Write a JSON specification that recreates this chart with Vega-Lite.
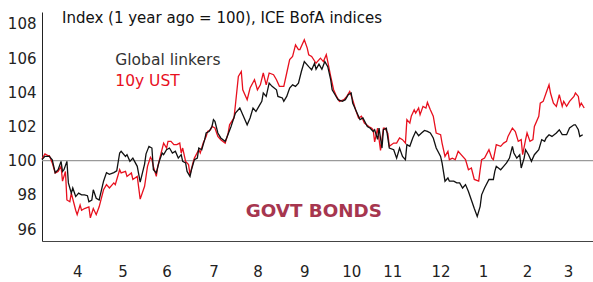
{
  "$schema": "https://vega.github.io/schema/vega-lite/v6.json",
  "width": 551,
  "height": 229,
  "autosize": {"type": "none"},
  "padding": {"left": 42, "top": 12, "right": 0, "bottom": 41},
  "background": "white",
  "config": {
    "view": {"stroke": null},
    "font": "DejaVu Sans",
    "axis": {"labelOverlap": false, "labelFlush": false, "grid": false, "ticks": false, "title": null, "labelSeparation": 0}
  },
  "title": {"text": "Index (1 year ago = 100), ICE BofA indices", "anchor": "start", "frame": "group", "offset": -14, "dx": 20, "font": "DejaVu Sans", "fontSize": 15, "fontWeight": "normal", "color": "#111"},
  "datasets": {
    "ust": [
      {"d":"2023-03-22","v":100.1},{"d":"2023-03-24","v":100.4},{"d":"2023-03-26","v":100.3},{"d":"2023-03-27","v":100.3},{"d":"2023-03-29","v":99.87},{"d":"2023-03-31","v":99.28},
      {"d":"2023-04-02","v":99.37},{"d":"2023-04-04","v":99.67},{"d":"2023-04-05","v":98.8},{"d":"2023-04-07","v":99.37},{"d":"2023-04-08","v":97.7},{"d":"2023-04-10","v":97.6},{"d":"2023-04-11","v":98.1},{"d":"2023-04-14","v":97.1},{"d":"2023-04-15","v":96.84},{"d":"2023-04-17","v":97.4},{"d":"2023-04-18","v":97.1},{"d":"2023-04-20","v":97.2},{"d":"2023-04-23","v":97.3},{"d":"2023-04-24","v":96.65},{"d":"2023-04-26","v":97.2},{"d":"2023-04-28","v":96.84},{"d":"2023-04-30","v":97.3},
      {"d":"2023-05-03","v":98.3},{"d":"2023-05-05","v":98.6},{"d":"2023-05-07","v":98.4},{"d":"2023-05-10","v":98.7},{"d":"2023-05-11","v":98.6},{"d":"2023-05-14","v":99.47},{"d":"2023-05-15","v":99.28},{"d":"2023-05-18","v":99.37},{"d":"2023-05-19","v":99.08},{"d":"2023-05-22","v":99.28},{"d":"2023-05-23","v":98.9},{"d":"2023-05-26","v":99.08},{"d":"2023-05-28","v":97.75},{"d":"2023-05-31","v":98.5},
      {"d":"2023-06-02","v":99.67},{"d":"2023-06-04","v":100.2},{"d":"2023-06-05","v":100.06},{"d":"2023-06-06","v":99.67},{"d":"2023-06-08","v":99.08},{"d":"2023-06-09","v":99.67},{"d":"2023-06-11","v":100.35},{"d":"2023-06-13","v":101.03},{"d":"2023-06-15","v":100.74},{"d":"2023-06-16","v":101.13},{"d":"2023-06-18","v":101.13},{"d":"2023-06-20","v":100.94},{"d":"2023-06-22","v":100.94},{"d":"2023-06-24","v":101.03},{"d":"2023-06-25","v":100.45},{"d":"2023-06-26","v":100.74},{"d":"2023-06-28","v":99.96},{"d":"2023-06-30","v":99.77},
      {"d":"2023-07-01","v":99.18},{"d":"2023-07-03","v":99.87},{"d":"2023-07-04","v":100.15},{"d":"2023-07-07","v":100.64},{"d":"2023-07-08","v":100.45},{"d":"2023-07-10","v":101.03},{"d":"2023-07-12","v":101.42},{"d":"2023-07-13","v":101.71},{"d":"2023-07-15","v":101.81},{"d":"2023-07-16","v":102.0},{"d":"2023-07-18","v":101.91},{"d":"2023-07-20","v":101.42},{"d":"2023-07-22","v":101.23},{"d":"2023-07-25","v":101.03},{"d":"2023-07-27","v":101.6},{"d":"2023-07-28","v":102.1},{"d":"2023-07-31","v":102.5},
      {"d":"2023-08-01","v":103.27},{"d":"2023-08-03","v":104.93},{"d":"2023-08-05","v":105.22},{"d":"2023-08-06","v":104.15},{"d":"2023-08-09","v":103.57},{"d":"2023-08-11","v":104.25},{"d":"2023-08-14","v":104.74},{"d":"2023-08-16","v":104.15},{"d":"2023-08-18","v":104.44},{"d":"2023-08-20","v":105.13},{"d":"2023-08-22","v":104.44},{"d":"2023-08-24","v":105.13},{"d":"2023-08-27","v":105.03},{"d":"2023-08-29","v":104.74},{"d":"2023-08-31","v":104.35},
      {"d":"2023-09-03","v":104.35},{"d":"2023-09-05","v":105.13},{"d":"2023-09-07","v":105.91},{"d":"2023-09-09","v":106.1},{"d":"2023-09-11","v":106.78},{"d":"2023-09-13","v":106.5},{"d":"2023-09-14","v":106.5},{"d":"2023-09-17","v":107.08},{"d":"2023-09-19","v":106.59},{"d":"2023-09-20","v":106.2},{"d":"2023-09-22","v":106.1},{"d":"2023-09-25","v":105.7},{"d":"2023-09-28","v":106.0},{"d":"2023-09-30","v":105.8},
      {"d":"2023-10-02","v":106.2},{"d":"2023-10-03","v":105.8},{"d":"2023-10-05","v":104.93},{"d":"2023-10-07","v":104.15},{"d":"2023-10-09","v":103.76},{"d":"2023-10-11","v":103.47},{"d":"2023-10-14","v":103.57},{"d":"2023-10-16","v":103.76},{"d":"2023-10-18","v":104.05},{"d":"2023-10-20","v":103.57},{"d":"2023-10-22","v":102.98},{"d":"2023-10-24","v":102.5},{"d":"2023-10-26","v":102.6},{"d":"2023-10-28","v":102.2},{"d":"2023-10-31","v":102.0},
      {"d":"2023-11-02","v":101.9},{"d":"2023-11-03","v":101.8},{"d":"2023-11-04","v":101.1},{"d":"2023-11-06","v":101.9},{"d":"2023-11-08","v":100.6},{"d":"2023-11-10","v":101.9},{"d":"2023-11-11","v":101.9},{"d":"2023-11-13","v":101.6},{"d":"2023-11-14","v":100.84},{"d":"2023-11-17","v":101.03},{"d":"2023-11-19","v":101.03},{"d":"2023-11-21","v":101.33},{"d":"2023-11-23","v":101.23},{"d":"2023-11-25","v":101.03},{"d":"2023-11-26","v":102.4},{"d":"2023-11-28","v":102.2},{"d":"2023-11-29","v":102.6},
      {"d":"2023-12-01","v":102.98},{"d":"2023-12-02","v":102.79},{"d":"2023-12-04","v":103.08},{"d":"2023-12-05","v":102.69},{"d":"2023-12-07","v":103.18},{"d":"2023-12-09","v":103.08},{"d":"2023-12-10","v":103.41},{"d":"2023-12-12","v":102.98},{"d":"2023-12-14","v":102.6},{"d":"2023-12-16","v":101.62},{"d":"2023-12-19","v":101.52},{"d":"2023-12-20","v":101.03},{"d":"2023-12-22","v":100.25},{"d":"2023-12-24","v":100.55},{"d":"2023-12-25","v":100.06},{"d":"2023-12-27","v":100.15},{"d":"2023-12-29","v":100.06},{"d":"2023-12-31","v":100.55},
      {"d":"2024-01-02","v":100.35},{"d":"2024-01-05","v":100.06},{"d":"2024-01-07","v":99.47},{"d":"2024-01-09","v":99.57},{"d":"2024-01-11","v":98.9},{"d":"2024-01-14","v":98.8},{"d":"2024-01-15","v":99.47},{"d":"2024-01-16","v":100.06},{"d":"2024-01-18","v":100.15},{"d":"2024-01-21","v":100.64},{"d":"2024-01-23","v":100.15},{"d":"2024-01-24","v":100.06},{"d":"2024-01-26","v":100.94},{"d":"2024-01-29","v":100.84},{"d":"2024-01-31","v":101.03},
      {"d":"2024-02-02","v":101.13},{"d":"2024-02-03","v":101.42},{"d":"2024-02-06","v":101.91},{"d":"2024-02-08","v":101.71},{"d":"2024-02-10","v":101.13},{"d":"2024-02-12","v":101.23},{"d":"2024-02-13","v":100.35},{"d":"2024-02-15","v":101.23},{"d":"2024-02-16","v":101.62},{"d":"2024-02-18","v":101.13},{"d":"2024-02-20","v":101.23},{"d":"2024-02-21","v":102.0},{"d":"2024-02-24","v":102.6},{"d":"2024-02-25","v":103.37},{"d":"2024-02-27","v":103.47},{"d":"2024-02-29","v":103.96},
      {"d":"2024-03-02","v":104.44},{"d":"2024-03-03","v":103.96},{"d":"2024-03-05","v":103.37},{"d":"2024-03-07","v":103.18},{"d":"2024-03-09","v":103.86},{"d":"2024-03-11","v":103.18},{"d":"2024-03-12","v":103.47},{"d":"2024-03-14","v":103.18},{"d":"2024-03-16","v":103.47},{"d":"2024-03-19","v":103.76},{"d":"2024-03-20","v":103.96},{"d":"2024-03-22","v":103.76},{"d":"2024-03-23","v":103.18},{"d":"2024-03-24","v":103.37},{"d":"2024-03-26","v":103.08}
    ],
    "linkers": [
      {"d":"2023-03-22","v":100.06},{"d":"2023-03-24","v":100.25},{"d":"2023-03-26","v":100.25},{"d":"2023-03-27","v":100.25},{"d":"2023-03-29","v":100.05},{"d":"2023-03-31","v":99.3},
      {"d":"2023-04-02","v":99.47},{"d":"2023-04-04","v":99.96},{"d":"2023-04-05","v":99.37},{"d":"2023-04-06","v":99.47},{"d":"2023-04-08","v":99.96},{"d":"2023-04-09","v":98.7},{"d":"2023-04-11","v":98.1},{"d":"2023-04-12","v":98.4},{"d":"2023-04-14","v":97.9},{"d":"2023-04-16","v":98.1},{"d":"2023-04-18","v":98.0},{"d":"2023-04-20","v":98.0},{"d":"2023-04-22","v":97.95},{"d":"2023-04-23","v":97.6},{"d":"2023-04-25","v":97.7},{"d":"2023-04-26","v":98.3},{"d":"2023-04-28","v":97.8},{"d":"2023-04-30","v":97.7},
      {"d":"2023-05-03","v":98.8},{"d":"2023-05-05","v":99.3},{"d":"2023-05-07","v":99.2},{"d":"2023-05-10","v":99.3},{"d":"2023-05-12","v":99.4},{"d":"2023-05-14","v":100.45},{"d":"2023-05-15","v":100.55},{"d":"2023-05-18","v":100.25},{"d":"2023-05-19","v":100.35},{"d":"2023-05-21","v":99.96},{"d":"2023-05-23","v":100.15},{"d":"2023-05-26","v":99.67},{"d":"2023-05-28","v":98.75},{"d":"2023-05-31","v":99.8},
      {"d":"2023-06-01","v":100.4},{"d":"2023-06-03","v":100.84},{"d":"2023-06-05","v":100.74},{"d":"2023-06-06","v":99.47},{"d":"2023-06-08","v":99.28},{"d":"2023-06-10","v":99.96},{"d":"2023-06-12","v":100.45},{"d":"2023-06-13","v":100.35},{"d":"2023-06-15","v":100.64},{"d":"2023-06-17","v":100.74},{"d":"2023-06-19","v":100.45},{"d":"2023-06-21","v":100.55},{"d":"2023-06-23","v":100.15},{"d":"2023-06-25","v":100.35},{"d":"2023-06-26","v":99.96},{"d":"2023-06-28","v":99.87},{"d":"2023-06-29","v":99.37},
      {"d":"2023-07-01","v":99.08},{"d":"2023-07-02","v":99.47},{"d":"2023-07-04","v":100.06},{"d":"2023-07-06","v":100.15},{"d":"2023-07-07","v":100.74},{"d":"2023-07-09","v":100.64},{"d":"2023-07-11","v":101.23},{"d":"2023-07-12","v":101.62},{"d":"2023-07-14","v":101.71},{"d":"2023-07-16","v":102.0},{"d":"2023-07-17","v":102.4},{"d":"2023-07-18","v":102.3},{"d":"2023-07-20","v":101.62},{"d":"2023-07-22","v":101.33},{"d":"2023-07-24","v":101.2},{"d":"2023-07-25","v":101.13},{"d":"2023-07-26","v":101.33},{"d":"2023-07-29","v":102.0},
      {"d":"2023-08-01","v":102.79},{"d":"2023-08-04","v":103.08},{"d":"2023-08-06","v":102.69},{"d":"2023-08-09","v":102.1},{"d":"2023-08-11","v":102.5},{"d":"2023-08-13","v":103.08},{"d":"2023-08-15","v":102.88},{"d":"2023-08-17","v":103.18},{"d":"2023-08-19","v":103.47},{"d":"2023-08-20","v":103.96},{"d":"2023-08-22","v":103.76},{"d":"2023-08-24","v":104.54},{"d":"2023-08-26","v":104.35},{"d":"2023-08-29","v":104.15},{"d":"2023-08-30","v":103.76},
      {"d":"2023-09-02","v":103.67},{"d":"2023-09-03","v":103.47},{"d":"2023-09-05","v":103.76},{"d":"2023-09-07","v":104.25},{"d":"2023-09-09","v":104.44},{"d":"2023-09-11","v":104.35},{"d":"2023-09-13","v":104.54},{"d":"2023-09-15","v":105.22},{"d":"2023-09-17","v":105.8},{"d":"2023-09-20","v":105.5},{"d":"2023-09-22","v":105.32},{"d":"2023-09-24","v":105.7},{"d":"2023-09-25","v":105.35},{"d":"2023-09-27","v":105.65},{"d":"2023-09-29","v":105.35},
      {"d":"2023-10-01","v":105.8},{"d":"2023-10-03","v":105.5},{"d":"2023-10-05","v":104.74},{"d":"2023-10-06","v":104.15},{"d":"2023-10-08","v":103.86},{"d":"2023-10-10","v":103.57},{"d":"2023-10-13","v":103.47},{"d":"2023-10-15","v":103.57},{"d":"2023-10-17","v":103.86},{"d":"2023-10-19","v":103.96},{"d":"2023-10-20","v":103.37},{"d":"2023-10-23","v":102.79},{"d":"2023-10-25","v":102.4},{"d":"2023-10-27","v":102.5},{"d":"2023-10-30","v":102.0},
      {"d":"2023-11-01","v":101.9},{"d":"2023-11-03","v":101.71},{"d":"2023-11-04","v":101.81},{"d":"2023-11-06","v":101.25},{"d":"2023-11-07","v":101.9},{"d":"2023-11-09","v":100.74},{"d":"2023-11-10","v":101.81},{"d":"2023-11-12","v":101.9},{"d":"2023-11-14","v":100.74},{"d":"2023-11-17","v":100.64},{"d":"2023-11-19","v":100.15},{"d":"2023-11-21","v":100.74},{"d":"2023-11-23","v":100.25},{"d":"2023-11-25","v":100.06},{"d":"2023-11-26","v":100.94},{"d":"2023-11-28","v":100.84},{"d":"2023-11-30","v":101.33},
      {"d":"2023-12-02","v":101.71},{"d":"2023-12-04","v":101.46},{"d":"2023-12-06","v":101.62},{"d":"2023-12-08","v":101.77},{"d":"2023-12-10","v":101.71},{"d":"2023-12-12","v":101.62},{"d":"2023-12-14","v":101.33},{"d":"2023-12-16","v":100.74},{"d":"2023-12-19","v":100.25},{"d":"2023-12-20","v":99.87},{"d":"2023-12-22","v":98.8},{"d":"2023-12-24","v":98.99},{"d":"2023-12-25","v":98.8},{"d":"2023-12-28","v":98.8},{"d":"2023-12-30","v":98.7},
      {"d":"2024-01-01","v":98.7},{"d":"2024-01-03","v":98.4},{"d":"2024-01-05","v":98.6},{"d":"2024-01-07","v":98.2},{"d":"2024-01-09","v":97.7},{"d":"2024-01-11","v":97.2},{"d":"2024-01-13","v":96.74},{"d":"2024-01-15","v":97.33},{"d":"2024-01-16","v":98.0},{"d":"2024-01-18","v":98.4},{"d":"2024-01-21","v":98.9},{"d":"2024-01-23","v":98.9},{"d":"2024-01-24","v":98.9},{"d":"2024-01-25","v":99.37},{"d":"2024-01-26","v":99.67},{"d":"2024-01-29","v":99.47},{"d":"2024-01-31","v":99.67},
      {"d":"2024-02-02","v":99.87},{"d":"2024-02-04","v":100.15},{"d":"2024-02-06","v":100.84},{"d":"2024-02-07","v":100.45},{"d":"2024-02-09","v":100.15},{"d":"2024-02-11","v":100.35},{"d":"2024-02-12","v":99.57},{"d":"2024-02-14","v":100.15},{"d":"2024-02-15","v":100.64},{"d":"2024-02-17","v":100.35},{"d":"2024-02-19","v":99.96},{"d":"2024-02-21","v":100.35},{"d":"2024-02-24","v":100.64},{"d":"2024-02-26","v":101.23},{"d":"2024-02-28","v":101.13},{"d":"2024-02-29","v":101.33},
      {"d":"2024-03-02","v":101.52},{"d":"2024-03-04","v":101.42},{"d":"2024-03-07","v":101.62},{"d":"2024-03-09","v":101.81},{"d":"2024-03-11","v":101.52},{"d":"2024-03-14","v":101.52},{"d":"2024-03-16","v":101.91},{"d":"2024-03-19","v":102.1},{"d":"2024-03-20","v":102.1},{"d":"2024-03-22","v":101.81},{"d":"2024-03-23","v":101.42},{"d":"2024-03-25","v":101.52}
    ],
    "ref": [{"v": 100}]
  },
  "layer": [
    {
      "encoding": {
        "x": {
          "field": "d", "type": "temporal",
          "scale": {"domain": [{"year": 2023, "month": 3, "date": 22, "utc": true}, {"year": 2024, "month": 4, "date": 1, "utc": true}]},
          "axis": {
            "title": null, "grid": false, "ticks": false,
            "values": [
              {"year": 2023, "month": 4, "date": 15, "utc": true},
              {"year": 2023, "month": 5, "date": 16, "utc": true},
              {"year": 2023, "month": 6, "date": 15, "utc": true},
              {"year": 2023, "month": 7, "date": 17, "utc": true},
              {"year": 2023, "month": 8, "date": 16, "utc": true},
              {"year": 2023, "month": 9, "date": 17, "utc": true},
              {"year": 2023, "month": 10, "date": 19, "utc": true},
              {"year": 2023, "month": 11, "date": 16, "utc": true},
              {"year": 2023, "month": 12, "date": 19, "utc": true},
              {"year": 2024, "month": 1, "date": 17, "utc": true},
              {"year": 2024, "month": 2, "date": 16, "utc": true},
              {"year": 2024, "month": 3, "date": 15, "utc": true}
            ],
            "labelExpr": "utcFormat(datum.value, '%-m')",
            "domainColor": "#444", "domainWidth": 1,
            "labelFont": "DejaVu Sans", "labelFontSize": 15, "labelColor": "#222",
            "labelPadding": 23, "labelFlush": false, "labelOverlap": false
          }
        },
        "y": {
          "field": "v", "type": "quantitative",
          "scale": {"domain": [95.3, 108.7], "nice": false, "zero": false},
          "axis": {
            "title": null, "grid": false, "ticks": false,
            "values": [96, 98, 100, 102, 104, 106, 108],
            "tickCount": 7,
            "domainColor": "#222", "domainWidth": 1,
            "labelFont": "DejaVu Sans", "labelFontSize": 15, "labelColor": "#222",
            "labelPadding": 6, "labelOverlap": false, "labelFlush": false, "labelSeparation": 0
          }
        }
      },
      "layer": [
        {
          "data": {"name": "ref"},
          "mark": {"type": "rule", "color": "#9a9a9a", "strokeWidth": 1.2},
          "encoding": {"x": {"value": 0}, "x2": {"value": 551}}
        },
        {
          "data": {"name": "ust"},
          "mark": {"type": "line", "color": "#e8101e", "strokeWidth": 1.3, "interpolate": "linear"}
        },
        {
          "data": {"name": "linkers"},
          "mark": {"type": "line", "color": "#111111", "strokeWidth": 1.3, "interpolate": "linear"}
        }
      ]
    },
    {
      "data": {"values": [{}]},
      "mark": {"type": "text", "text": "Global linkers", "align": "left", "baseline": "alphabetic", "font": "DejaVu Sans", "fontSize": 15.5, "color": "#333333"},
      "encoding": {
        "x": {"datum": {"year": 2023, "month": 5, "date": 11, "utc": true}, "type": "temporal"},
        "y": {"datum": 105.61, "type": "quantitative"}
      }
    },
    {
      "data": {"values": [{}]},
      "mark": {"type": "text", "text": "10y UST", "align": "left", "baseline": "alphabetic", "font": "DejaVu Sans", "fontSize": 15.5, "color": "#e8101e"},
      "encoding": {
        "x": {"datum": {"year": 2023, "month": 5, "date": 11, "utc": true}, "type": "temporal"},
        "y": {"datum": 104.39, "type": "quantitative"}
      }
    },
    {
      "data": {"values": [{}]},
      "mark": {"type": "text", "text": "GOVT BONDS", "align": "left", "baseline": "alphabetic", "font": "DejaVu Sans", "fontSize": 18.3, "fontWeight": "bold", "color": "#a6364f"},
      "encoding": {
        "x": {"datum": {"year": 2023, "month": 8, "date": 8, "utc": true}, "type": "temporal"},
        "y": {"datum": 96.71, "type": "quantitative"}
      }
    }
  ]
}
